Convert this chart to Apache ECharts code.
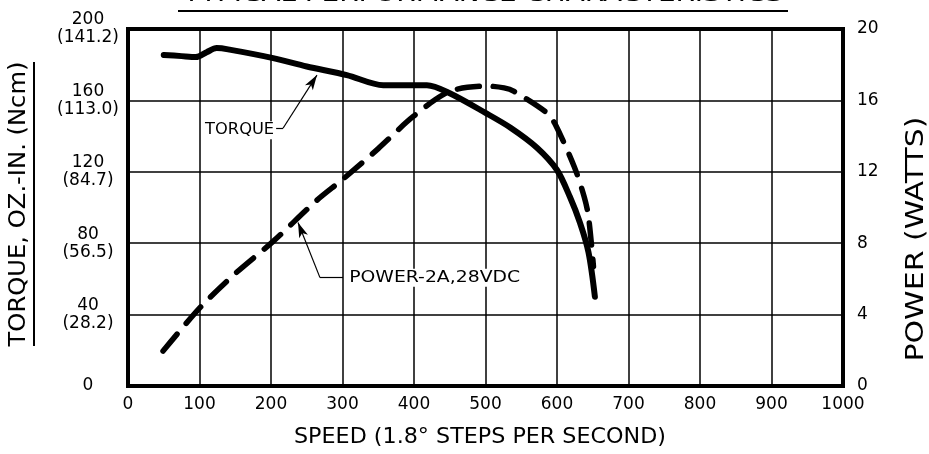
<!DOCTYPE html>
<html>
<head>
<meta charset="utf-8">
<script src="https://cdn.jsdelivr.net/npm/echarts@6/dist/echarts.min.js"></script>
<style>
  html, body { margin: 0; padding: 0; background: #fff; }
  #chart { width: 929px; height: 454px; }
</style>
</head>
<body>
<div id="chart"></div>
<script>
// torque curve (oz-in) vs speed (steps/s)
var torqueSpeed = [50, 75, 95, 110, 124, 140, 203, 250, 306, 357, 418, 450, 500, 535, 572, 600, 618, 632, 644, 653]
var torqueValue = [185.5, 184.8, 184.3, 187, 189.3, 188.6, 183.7, 179, 174.2, 168.5, 168.5, 164, 153, 144.7, 133.5, 121, 106, 91.6, 75, 50]

// power curve (watts) vs speed
var powerSpeed = [49, 101, 150, 203, 264, 301, 350, 399, 450, 503, 526, 540, 586, 597, 624, 638, 644, 651]
var powerValue = [1.96, 4.4, 6.3, 8.1, 10.4, 11.6, 13.3, 15.1, 16.5, 16.8, 16.7, 16.5, 15.3, 14.7, 12.3, 10.6, 9.5, 6.7]

// tick labels
var torqueTicks = [0, 40, 80, 120, 160, 200]
var ncmTicks = ['', '28.2', '56.5', '84.7', '113.0', '141.2']

// annotation anchors, in [speed, torque] units
var torqueLabelAt = [105, 143.3]
var torqueLeader = [[205.6, 144.4], [216.8, 144.4], [264.3, 174.2]]
var powerLabelAt = [306, 60.7]
var powerLeader = [[300.7, 60.7], [268.5, 60.7], [237.8, 91.6]]

var FONT = 'DejaVu Sans'

function pairs (xs, ys) {
  return xs.map(function (x, i) { return [x, ys[i]] })
}

function leaderLines (pts) {
  return [
    [{ coord: pts[0], symbol: 'none' }, { coord: pts[1], symbol: 'none' }],
    [{ coord: pts[1], symbol: 'none' }, { coord: pts[2], symbol: 'arrow', symbolSize: [7, 15] }]
  ]
}

var ctx = document.createElement('canvas').getContext('2d')
function fitScale (text, size, target) {
  ctx.font = size + 'px ' + FONT
  return target / ctx.measureText(text).width
}

// text stretched to a given length, optionally rotated
function label (text, x, y, size, length, opts) {
  opts = opts || {}
  return {
    type: 'text', x: x, y: y, z: 10,
    rotation: opts.rotation || 0,
    scaleX: fitScale(text, size, length),
    style: {
      text: text, fill: '#000', font: size + 'px ' + FONT,
      align: opts.align || 'center', verticalAlign: opts.verticalAlign || 'middle',
      backgroundColor: opts.bg, padding: opts.bg ? [1, 2] : 0
    }
  }
}

var chart = echarts.init(document.getElementById('chart'))

chart.setOption({
  backgroundColor: '#fff',
  animation: false,
  grid: {
    left: 128, top: 29, width: 715, height: 357,
    containLabel: false, outerBoundsMode: 'none',
    show: true, borderColor: '#000', borderWidth: 4, backgroundColor: 'transparent'
  },
  xAxis: {
    type: 'value', min: 0, max: 1000, interval: 100,
    axisLine: { show: false }, axisTick: { show: false },
    splitLine: { lineStyle: { color: '#000', width: 1.5 } },
    axisLabel: {
      color: '#000', fontFamily: FONT, fontSize: 17, margin: 10,
      formatter: function (v) { return String(v) }
    }
  },
  yAxis: [{
    type: 'value', min: 0, max: 200, interval: 40,
    axisLine: { show: false }, axisTick: { show: false },
    splitLine: { lineStyle: { color: '#000', width: 1.5 } },
    axisLabel: {
      color: '#000', fontFamily: FONT, fontSize: 17, lineHeight: 18,
      align: 'center', margin: 40,
      formatter: function (v) {
        var i = torqueTicks.indexOf(v)
        return i <= 0 ? String(v) : v + '\n(' + ncmTicks[i] + ')'
      }
    }
  }, {
    type: 'value', min: 0, max: 20, interval: 4, position: 'right',
    axisLine: { show: false }, axisTick: { show: false },
    splitLine: { show: false },
    axisLabel: { color: '#000', fontFamily: FONT, fontSize: 17, margin: 14 }
  }],
  series: [{
    name: 'torque', type: 'line', yAxisIndex: 0,
    data: pairs(torqueSpeed, torqueValue),
    smooth: 0.3, showSymbol: false,
    lineStyle: { color: '#000', width: 6, cap: 'round', join: 'round' },
    markLine: {
      silent: true, animation: false, label: { show: false },
      lineStyle: { color: '#000', width: 1.2, type: 'solid' },
      data: leaderLines(torqueLeader).concat(leaderLines(powerLeader))
    }
  }, {
    name: 'power', type: 'line', yAxisIndex: 1,
    data: pairs(powerSpeed, powerValue),
    smooth: 0.3, showSymbol: false,
    lineStyle: { color: '#000', width: 5.5, type: [22, 14], cap: 'round', join: 'round' }
  }]
})

var tp = chart.convertToPixel({ gridIndex: 0 }, torqueLabelAt)
var pp = chart.convertToPixel({ gridIndex: 0 }, powerLabelAt)

chart.setOption({
  graphic: [
    label('TYPICAL PERFORMANCE CHARACTERISTICS', 483, 6, 20, 600, { verticalAlign: 'bottom' }),
    { type: 'line', shape: { x1: 178, y1: 11, x2: 788, y2: 11 }, style: { stroke: '#000', lineWidth: 2 } },
    label('TORQUE, OZ.-IN. (Ncm)', 19, 204, 23, 285, { rotation: Math.PI / 2 }),
    { type: 'line', shape: { x1: 34, y1: 62, x2: 34, y2: 346 }, style: { stroke: '#000', lineWidth: 2 } },
    label('POWER (WATTS)', 917, 239, 24, 245, { rotation: Math.PI / 2 }),
    label('SPEED (1.8° STEPS PER SECOND)', 480, 437, 22, 372),
    label('TORQUE', tp[0], tp[1], 16, 69, { align: 'left', bg: '#fff' }),
    label('POWER-2A,28VDC', pp[0], pp[1], 16, 171, { align: 'left', bg: '#fff' })
  ]
})
</script>
</body>
</html>
